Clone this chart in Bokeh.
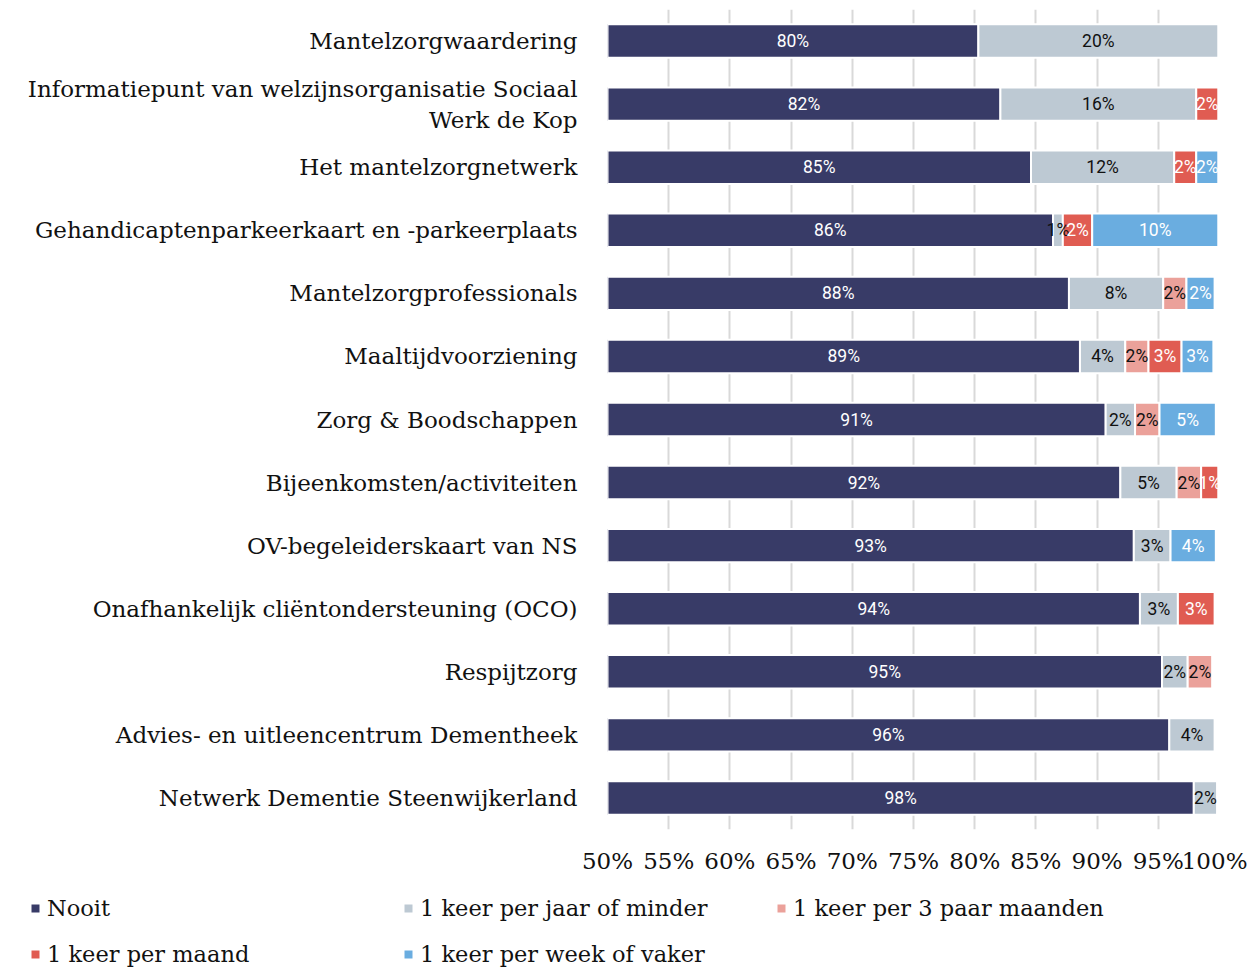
import numpy as np
from bokeh.plotting import figure
from bokeh.layouts import column, row
from bokeh.models import ColumnDataSource, FactorRange, Range1d, Legend, LegendItem, FixedTicker
from bokeh.core.properties import value
from bokeh.embed import file_html
from bokeh.resources import INLINE

categories = [
    "Mantelzorgwaardering",
    "Informatiepunt van welzijnsorganisatie Sociaal\nWerk de Kop",
    "Het mantelzorgnetwerk",
    "Gehandicaptenparkeerkaart en -parkeerplaats",
    "Mantelzorgprofessionals",
    "Maaltijdvoorziening",
    "Zorg & Boodschappen",
    "Bijeenkomsten/activiteiten",
    "OV-begeleiderskaart van NS",
    "Onafhankelijk cliëntondersteuning (OCO)",
    "Respijtzorg",
    "Advies- en uitleencentrum Dementheek",
    "Netwerk Dementie Steenwijkerland",
]

series = ["Nooit", "1 keer per jaar of minder", "1 keer per 3 paar maanden",
          "1 keer per maand", "1 keer per week of vaker"]
nooit          = [80.3, 82.1, 84.6, 86.4, 87.7, 88.6, 90.7, 91.9, 93.0, 93.5, 95.3, 95.9, 97.9]
jaar_of_minder = [19.6, 16.0, 11.7,  0.8,  7.7,  3.7,  2.4,  4.6,  3.0,  3.1,  2.1,  3.7,  1.9]
per_3_maanden  = [ 0.0,  0.0,  0.0,  0.0,  1.9,  1.9,  2.0,  2.0,  0.0,  0.0,  2.0,  0.0,  0.0]
per_maand      = [ 0.0,  1.8,  1.8,  2.4,  0.0,  2.7,  0.0,  1.4,  0.0,  3.0,  0.0,  0.0,  0.0]
per_week       = [ 0.0,  0.0,  1.8, 10.3,  2.3,  2.6,  4.6,  0.0,  3.7,  0.0,  0.0,  0.0,  0.0]
tick_values = [50, 55, 60, 65, 70, 75, 80, 85, 90, 95, 100]

colors = ["#383b67", "#bdc9d3", "#eba19a", "#e05c52", "#6aade0"]
text_colors = ["white", "#111111", "#111111", "white", "white"]
values = [nooit, jaar_of_minder, per_3_maanden, per_maand, per_week]

x_min, x_max = 50, 100
SERIF = "DejaVu Serif"

p = figure(
    width=1247, height=880,
    y_range=FactorRange(factors=list(reversed(categories))),
    x_range=Range1d(x_min, x_max),
    output_backend="svg", toolbar_location=None,
    min_border_left=607, min_border_right=28, min_border_top=9, min_border_bottom=51,
)
p.outline_line_color = None
p.background_fill_color = "white"

# legend strip: shares the bar data, its ranges keep the bars out of view
lg = figure(width=1247, height=88, output_backend="svg", toolbar_location=None,
            x_range=Range1d(-2, -1), y_range=FactorRange(factors=list(reversed(categories))),
            min_border_left=0, min_border_right=0, min_border_top=0, min_border_bottom=0)
lg.axis.visible = False
lg.grid.visible = False
lg.outline_line_color = None

left = np.zeros(len(categories))
label_sources = []
items = []
for name, vals, col, tcol in zip(series, values, colors, text_colors):
    v = np.array(vals, dtype=float)
    right = left + v
    mask = v > 0
    ys = [c for c, m in zip(categories, mask) if m]
    src = ColumnDataSource(dict(y=ys, left=left[mask], right=right[mask]))
    p.hbar(y="y", left="left", right="right", height=0.53, source=src,
           fill_color=col, line_color="white", line_width=2)
    r = lg.hbar(y="y", left="left", right="right", height=0.53, source=src,
                fill_color=col, line_color=None)
    items.append(LegendItem(label=name, renderers=[r]))
    centers = (np.maximum(left[mask], x_min) + right[mask]) / 2
    label_sources.append((ColumnDataSource(dict(
        y=ys, x=centers, t=[f"{int(x + 0.5)}%" for x in v[mask]])), tcol))
    left = right

for lsrc, tcol in label_sources:
    p.text(x="x", y="y", text="t", source=lsrc, text_align="center",
           text_baseline="middle", text_color=tcol, text_font=value("Roboto"),
           text_font_size="17.5px")

# axes
p.xaxis.ticker = FixedTicker(ticks=tick_values)
p.xaxis.major_label_overrides = {t: f"{t}%" for t in tick_values}
p.xaxis.axis_line_color = None
p.xaxis.major_tick_line_color = None
p.xaxis.minor_tick_line_color = None
p.xaxis.major_tick_out = 0
p.xaxis.major_label_standoff = 18
p.xaxis.major_label_text_font = SERIF
p.xaxis.major_label_text_font_size = "23px"
p.xaxis.major_label_text_color = "#111111"

p.yaxis.axis_line_color = None
p.yaxis.major_tick_line_color = None
p.yaxis.minor_tick_line_color = None
p.yaxis.major_tick_out = 0
p.yaxis.major_label_standoff = 30
p.yaxis.major_label_text_font = SERIF
p.yaxis.major_label_text_font_size = "23px"
p.yaxis.major_label_text_color = "#111111"

p.ygrid.grid_line_color = None
p.xgrid.ticker = FixedTicker(ticks=tick_values)
p.xgrid.grid_line_color = "#d9d9d9"
p.xgrid.grid_line_width = 2

legend = Legend(
    items=items, orientation="horizontal", ncols=3,
    glyph_width=10, glyph_height=10, label_standoff=7,
    label_width=336, label_height=22, spacing=20,
    label_text_font=SERIF, label_text_font_size="22.5px",
    label_text_color="#111111",
    border_line_color=None, background_fill_alpha=0,
    padding=0, margin=0, location=(30, 1),
)
lg.add_layout(legend, "center")

open("out.html", "w").write(file_html(column(p, row(lg), spacing=0), INLINE))
